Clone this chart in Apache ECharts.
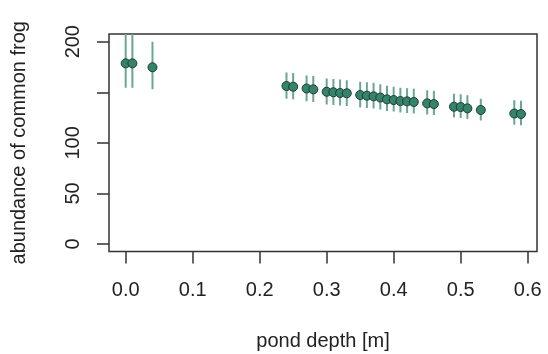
<!DOCTYPE html>
<html>
<head>
<meta charset="utf-8">
<script src="https://cdn.jsdelivr.net/npm/echarts@6/dist/echarts.min.js"></script>
<style>html,body{margin:0;padding:0;background:#fff}#c{width:548px;height:354px}</style>
</head>
<body>
<div id="c"></div>
<script>
const depth = [0.00, 0.01, 0.04, 0.24, 0.25, 0.27, 0.28, 0.30, 0.31, 0.32, 0.33, 0.35, 0.36, 0.37, 0.38, 0.39, 0.40, 0.41, 0.42, 0.43, 0.45, 0.46, 0.49, 0.50, 0.51, 0.53, 0.58, 0.59];
const abundance = [178.6, 178.6, 174.7, 156.2, 155.5, 153.7, 152.9, 150.5, 150.0, 149.3, 149.0, 147.3, 146.6, 146.0, 144.8, 143.0, 142.3, 141.3, 141.0, 140.4, 139.0, 138.3, 135.7, 135.4, 134.1, 132.5, 129.0, 128.5];
const lowerCI = [154.5, 154.5, 153.0, 143.5, 143.0, 141.0, 140.5, 138.0, 137.5, 137.0, 136.5, 135.0, 134.5, 134.0, 133.0, 131.5, 131.0, 130.0, 129.5, 129.0, 128.0, 127.5, 125.0, 124.5, 123.5, 122.0, 118.0, 117.5];
const upperCI = [209.0, 209.0, 200.0, 169.5, 169.0, 166.5, 166.0, 163.5, 163.0, 162.5, 162.0, 160.5, 160.0, 159.5, 158.0, 156.5, 155.5, 154.5, 154.0, 153.5, 152.0, 151.5, 148.5, 148.0, 147.0, 143.5, 142.0, 141.5];
const xTicks = [0, 0.1, 0.2, 0.3, 0.4, 0.5, 0.6];
const yTicks = [0, 50, 100, 150, 200];
const yLabels = [0, 50, 100, 200];

const font = 'Liberation Sans, Arial, sans-serif';
const txt = '#222';
const chart = echarts.init(document.getElementById('c'), null, {renderer: 'canvas'});
const pts = depth.map((d, i) => [d, abundance[i]]);
const bars = depth.map((d, i) => [d, lowerCI[i], upperCI[i]]);
chart.setOption({
  animation: false,
  grid: {left: 109, top: 34, width: 428, height: 217.5, outerBoundsMode: 'none', containLabel: false, show: true, borderColor: '#333', borderWidth: 1.5, backgroundColor: 'transparent'},
  xAxis: {
    type: 'value', min: -0.0249, max: 0.6139,
    splitLine: {show: false},
    axisLine: {show: false, onZero: false},
    axisTick: {show: true, length: 12, lineStyle: {color: '#333', width: 1.5}, customValues: xTicks},
    axisLabel: {customValues: xTicks, formatter: v => v.toFixed(1), fontFamily: font, fontSize: 20, color: txt, margin: 29},
    name: 'pond depth [m]', nameLocation: 'middle', nameGap: 80,
    nameTextStyle: {fontFamily: font, fontSize: 20, color: txt}
  },
  yAxis: {
    type: 'value', min: -7.4, max: 207.6,
    splitLine: {show: false},
    axisLine: {show: false, onZero: false},
    axisTick: {show: true, length: 12, lineStyle: {color: '#333', width: 1.5}, customValues: yTicks},
    axisLabel: {customValues: yLabels, rotate: 90, fontFamily: font, fontSize: 20, color: txt, margin: 26},
    name: 'abundance of common frog', nameLocation: 'middle', nameGap: 80,
    nameTextStyle: {fontFamily: font, fontSize: 20, color: txt}
  },
  series: [
    {
      type: 'custom', clip: true, z: 2,
      data: bars,
      renderItem: function (params, api) {
        const x = api.value(0);
        const p1 = api.coord([x, api.value(1)]);
        const p2 = api.coord([x, api.value(2)]);
        return {type: 'line', shape: {x1: p1[0], y1: p1[1], x2: p2[0], y2: p2[1]}, style: {stroke: '#6aa595', lineWidth: 2}};
      },
      encode: {x: 0, y: [1, 2]}
    },
    {
      type: 'scatter', z: 3, data: pts, symbol: 'circle', symbolSize: 9,
      itemStyle: {color: '#35836a', borderColor: '#1e3d33', borderWidth: 1, opacity: 1}
    }
  ]
});
</script>
</body>
</html>
